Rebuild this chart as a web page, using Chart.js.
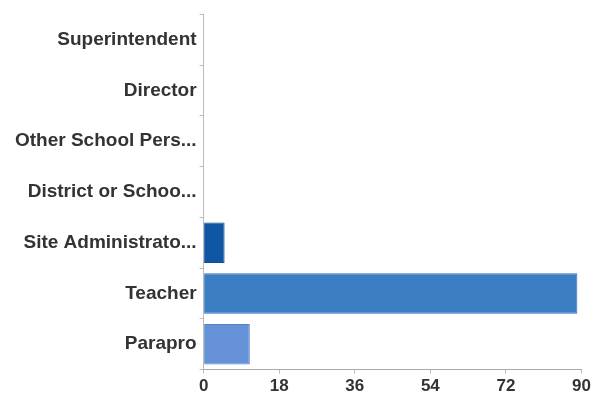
<!DOCTYPE html>
<html>
<head>
<meta charset="utf-8">
<script src="https://cdn.jsdelivr.net/npm/chart.js@4/dist/chart.umd.min.js"></script>
<style>
html,body{margin:0;padding:0;background:#fff;}
#wrap{width:594px;height:400px;}
</style>
</head>
<body>
<div id="wrap"><canvas id="c" width="594" height="400"></canvas></div>
<script>
const categories = ["Superintendent", "Director", "Other School Pers...", "District or Schoo...", "Site Administrato...", "Teacher", "Parapro"];
const counts = [0, 0, 0, 0, 5, 89, 11];
const barColors = ["#0f56a3", "#0f56a3", "#0f56a3", "#0f56a3", "#0f56a3", "#3c7ec4", "#6591d6"];
const barBorders = ["#0d4d93", "#0d4d93", "#0d4d93", "#0d4d93", "#0d4d93", "#3371b6", "#5580c8"];
const xTicks = [0, 18, 36, 54, 72, 90];

new Chart(document.getElementById('c'), {
  type: 'bar',
  data: {
    labels: categories,
    datasets: [{
      data: counts,
      backgroundColor: barColors,
      borderColor: barBorders,
      borderWidth: 1,
      categoryPercentage: 0.8,
      barPercentage: 1.0
    }]
  },
  options: {
    indexAxis: 'y',
    responsive: false,
    animation: false,
    layout: { padding: { left: 12, right: 3, top: 11, bottom: 0 } },
    plugins: { legend: { display: false }, tooltip: { enabled: false } },
    scales: {
      x: {
        min: 0, max: 90,
        afterBuildTicks: (s) => { s.ticks = xTicks.map(v => ({ value: v })); },
        grid: { display: true, drawOnChartArea: false, tickLength: 4, color: '#bbbbbb' },
        border: { display: true, color: '#aaaaaa' },
        ticks: { color: '#333333', font: { family: 'Liberation Sans, Arial, sans-serif', size: 17, weight: 'bold' }, padding: 3 }
      },
      y: {
        grid: { display: true, drawOnChartArea: false, tickLength: 4, color: '#bbbbbb' },
        border: { display: true, color: '#bbbbbb' },
        ticks: { color: '#333333', font: { family: 'Liberation Sans, Arial, sans-serif', size: 19, weight: 'bold' }, padding: 3 }
      }
    }
  }
});
</script>
</body>
</html>
